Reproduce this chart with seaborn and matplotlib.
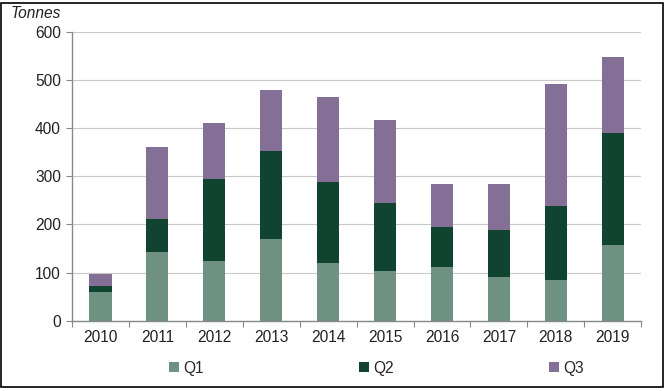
import matplotlib
matplotlib.use("Agg")
import matplotlib.pyplot as plt
import seaborn as sns
import numpy as np
import pandas as pd
from matplotlib.patches import Patch, Rectangle

years = ["2010", "2011", "2012", "2013", "2014", "2015", "2016", "2017", "2018", "2019"]
q1 = [60, 142, 123, 170, 119, 103, 111, 91, 85, 158]
q2 = [13, 69, 171, 183, 170, 141, 84, 97, 154, 233]
q3 = [24, 151, 117, 127, 177, 173, 90, 97, 253, 158]
series_names = ["Q1", "Q2", "Q3"]
colors = ["#6e9181", "#104431", "#846f96"]
y_ticks = [0, 100, 200, 300, 400, 500, 600]

sns.set_theme(style="white")
plt.rcParams["font.family"] = ["Liberation Sans", "DejaVu Sans"]

FS = 11.2

fig = plt.figure(figsize=(6.7, 3.91), dpi=100)
ax = fig.add_axes([0.1075, 0.180, 0.957 - 0.1075, 0.918 - 0.180])

c1 = np.array(q1)
c2 = c1 + np.array(q2)
c3 = c2 + np.array(q3)
df = pd.DataFrame({"year": years, "Q1": c1, "Q2": c2, "Q3": c3})

for name, col in zip(["Q3", "Q2", "Q1"], [colors[2], colors[1], colors[0]]):
    sns.barplot(data=df, x="year", y=name, color=col, width=0.39,
                saturation=1, ax=ax, zorder=3, linewidth=0, edgecolor="none")

ax.set_ylim(0, 600)
ax.set_xlim(-0.5, 9.5)
ax.set_yticks(y_ticks)
ax.set_yticklabels([str(v) for v in y_ticks], fontsize=FS, color="#222222")
ax.set_xticklabels(years, fontsize=FS, color="#222222")
ax.set_xlabel("")
ax.set_ylabel("")
ax.yaxis.grid(True, color="#c8c8c8", linewidth=0.8, zorder=0)
ax.set_axisbelow(True)

for s in ["top", "right"]:
    ax.spines[s].set_visible(False)
for s in ["left", "bottom"]:
    ax.spines[s].set_color("#888888")
    ax.spines[s].set_linewidth(1.0)

ax.tick_params(axis="y", which="major", left=True, length=4, width=0.8,
               color="#888888", direction="out", pad=4)
ax.tick_params(axis="x", which="major", length=0, pad=7)
ax.set_xticks(np.arange(-0.5, 10.0, 1.0), minor=True)
ax.tick_params(axis="x", which="minor", bottom=True, length=4, width=0.8,
               color="#888888", direction="out")

fig.text(11 / 670, 1 - 14 / 391, "Tonnes", fontsize=FS, style="italic",
         ha="left", va="center", color="#222222")

handles = [Patch(facecolor=c, edgecolor="none") for c in colors]
fig.legend(handles, series_names, loc="center", bbox_to_anchor=(0.562, 1 - 368 / 391),
           ncol=3, frameon=False, fontsize=FS, handlelength=0.65, handleheight=0.65,
           handletextpad=0.25, columnspacing=10.0)

fig.patches.append(Rectangle((1 / 670, 1 - 387 / 391), 662 / 670, 384 / 391,
                             transform=fig.transFigure, fill=False,
                             edgecolor="black", linewidth=1.2))

fig.savefig("out.png", dpi=100)
